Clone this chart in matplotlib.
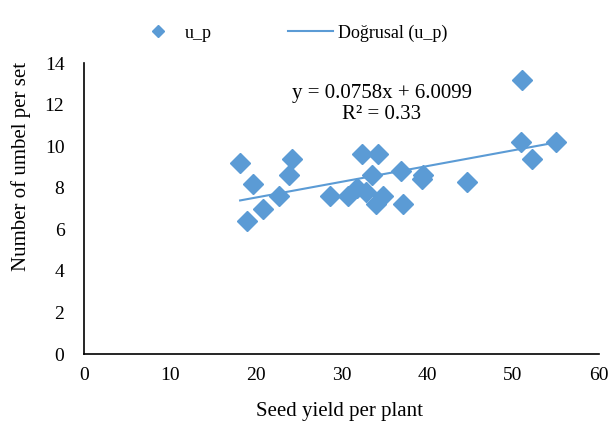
import matplotlib.pyplot as plt
import numpy as np

plt.rcParams['font.family'] = ['Liberation Serif', 'DejaVu Serif']

# seed yield per plant vs number of umbel per set
seed_yield = [18.2, 19.0, 19.7, 20.9, 22.7, 23.9, 24.2, 28.7, 30.8, 31.8,
              32.4, 34.3, 33.6, 32.9, 34.0, 34.8, 36.9, 37.2, 39.5, 39.4,
              44.6, 51.0, 50.9, 52.2, 55.0]
umbel = [9.2, 6.4, 8.2, 7.0, 7.6, 8.6, 9.4, 7.6, 7.6, 8.0,
         9.6, 9.6, 8.6, 7.8, 7.2, 7.6, 8.8, 7.2, 8.6, 8.4,
         8.3, 13.2, 10.2, 9.4, 10.2]
slope, intercept = 0.0758, 6.0099

blue = '#5B9BD5'

fig = plt.figure(figsize=(6.08, 4.23), dpi=100)
ax = fig.add_axes([0.138, 0.163, 0.847, 0.688])

ax.plot(seed_yield, umbel, 'D', color=blue, markersize=10, label='u_p', zorder=3)
xs = np.array([min(seed_yield), max(seed_yield)])
ax.plot(xs, slope * xs + intercept, color=blue, lw=1.5, label='Doğrusal (u_p)', zorder=2)

ax.text(34.7, 12.05, 'y = 0.0758x + 6.0099\nR² = 0.33', ha='center', va='center',
        fontsize=15, linespacing=1.15)

ax.set_xlim(0, 60)
ax.set_ylim(0, 14)
ax.set_xticks(range(0, 61, 10))
ax.set_yticks(range(0, 15, 2))
ax.tick_params(length=0, labelsize=14)
ax.tick_params(axis='x', pad=9)
ax.tick_params(axis='y', pad=14)
for s in ['top', 'right']:
    ax.spines[s].set_visible(False)
for s in ['left', 'bottom']:
    ax.spines[s].set_color('black')
    ax.spines[s].set_linewidth(1.2)

ax.set_xlabel('Seed yield per plant', fontsize=15)
ax.set_ylabel('Number of umbel per set', fontsize=15)
ax.xaxis.set_label_coords(0.497, -0.199)
ax.yaxis.set_label_coords(-0.122, 0.646)
ax.xaxis.label.set_va('center')
ax.yaxis.label.set_va('center')

fig.legend(loc='center', bbox_to_anchor=(0.479, 0.922), ncol=2, frameon=False,
           fontsize=13, columnspacing=4.2, handlelength=2.5, handletextpad=0.25,
           markerscale=0.6)

fig.savefig('out.png', dpi=100)
